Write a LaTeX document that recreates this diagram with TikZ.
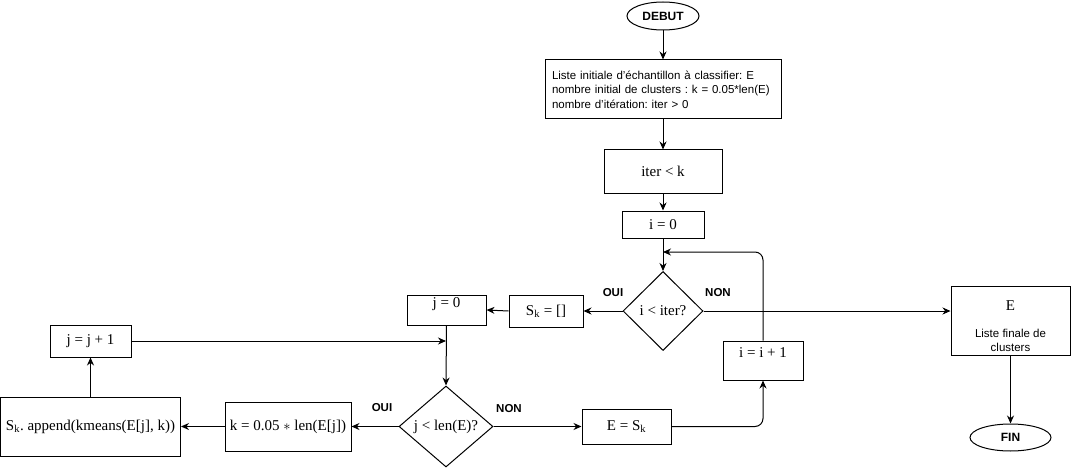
\documentclass[tikz,border=0pt]{standalone}
\usepackage{fontspec}
\setmainfont{Liberation Serif}
\setsansfont{Liberation Sans}
\frenchspacing
\usetikzlibrary{shapes.geometric,arrows.meta}
\tikzset{
  box/.style={draw, line width=1pt, rectangle, inner sep=0pt, font=\fontsize{15}{17}\selectfont},
  term/.style={draw, line width=1pt, ellipse, inner sep=0pt, font=\sffamily\bfseries\fontsize{12}{14}\selectfont},
  dec/.style={draw, line width=1pt, diamond, inner sep=0pt, font=\fontsize{15}{17}\selectfont},
  lab/.style={font=\sffamily\bfseries\fontsize{11.5}{13}\selectfont},
  txt/.style={inner sep=0pt, font=\fontsize{15}{17}\selectfont},
  arr/.style={draw, line width=1pt, -{Stealth[length=8pt,width=7pt]}},
  ln/.style={draw, line width=1pt},
}
\begin{document}
\begin{tikzpicture}[x=1pt,y=-1pt]
\useasboundingbox (0,0) rectangle (1071,468);
% nodes
\node[term, minimum width=72pt, minimum height=28pt] (debut) at (663,16) {DEBUT};
\node[box, minimum width=236pt, minimum height=59pt, align=left, text width=222pt,
      font=\sffamily\fontsize{11.5}{14.5}\selectfont] (list) at (663,89.5)
  {Liste initiale d'échantillon à classifier: E\\nombre initial de clusters : k = 0.05*len(E)\\nombre d'itération: iter > 0};
\node[box, minimum width=118pt, minimum height=43pt] (iterk) at (663,171.5) {iter < k};
\node[box, minimum width=82pt, minimum height=27pt] (i0) at (663,224.5) {i = 0};
\node[dec, minimum width=80pt, minimum height=79pt] (d1) at (663,311) {i < iter?};
\node[box, minimum width=74pt, minimum height=32pt] (sk) at (546,311) {S\textsubscript{k} = []};
\node[box, minimum width=79pt, minimum height=30pt] (j0) at (446.5,310) {};
\node[txt] (j0t) at (446.5,304) {j = 0};
\node[box, minimum width=81pt, minimum height=32pt] (jj) at (90.5,341) {j = j + 1};
\node[dec, minimum width=94pt, minimum height=81pt] (d2) at (446,426.5) {j < len(E)?};
\node[box, minimum width=126pt, minimum height=49pt] (kbox) at (288,426.5) {k = 0.05 $\ast$ len(E[j])};
\node[box, minimum width=180pt, minimum height=59pt] (app) at (90.5,426.5) {S\textsubscript{k}. append(kmeans(E[j], k))};
\node[box, minimum width=89pt, minimum height=35pt] (esk) at (626.5,426.5) {E = S\textsubscript{k}};
\node[box, minimum width=80pt, minimum height=39pt] (ii) at (763,360.5) {};
\node[txt] (iit) at (763,353) {i = i + 1};
\node[box, minimum width=119pt, minimum height=69pt] (ebox) at (1010.5,320.5) {};
\node[txt] (ebt) at (1010.5,306) {E};
\node[inner sep=0pt, align=center, font=\sffamily\fontsize{11.5}{14}\selectfont] (ebl) at (1010.5,340) {Liste finale de\\clusters};
\node[term, minimum width=81pt, minimum height=27pt] (fin) at (1010.5,437.5) {FIN};
% labels
\node[lab] (oui1) at (613,293) {OUI};
\node[lab] (non1) at (718,293) {NON};
\node[lab] (oui2) at (382,408) {OUI};
\node[lab] (non2) at (509,409) {NON};
% coordinates
\coordinate (jin) at (446,341);
\coordinate (iin) at (663,252);
\coordinate (c1) at (763,426.5);
\coordinate (c2) at (763,252);
% connectors
\draw[arr] (debut) -- (list);
\draw[arr] (list) -- (iterk);
\draw[arr] (iterk) -- (i0);
\draw[arr] (i0) -- (d1);
\draw[arr] (d1.west) -- (sk.east);
\draw[arr] (sk.west) -- (j0.east);
\draw[arr] (j0.south) -- (d2.north);
\draw[arr] (jj.east) -- (jin);
\draw[arr] (d2.west) -- (kbox.east);
\draw[arr] (kbox.west) -- (app.east);
\draw[arr] (app.north) -- (jj.south);
\draw[arr] (d2.east) -- (esk.west);
\draw[arr, rounded corners=8pt] (esk.east) -- (c1) -- (ii.south);
\draw[arr, rounded corners=8pt] (ii.north) -- (c2) -- (iin);
\draw[arr] (d1.east) -- (d1.east -| ebox.west);
\draw[arr] (ebox) -- (fin);
\end{tikzpicture}
\end{document}
